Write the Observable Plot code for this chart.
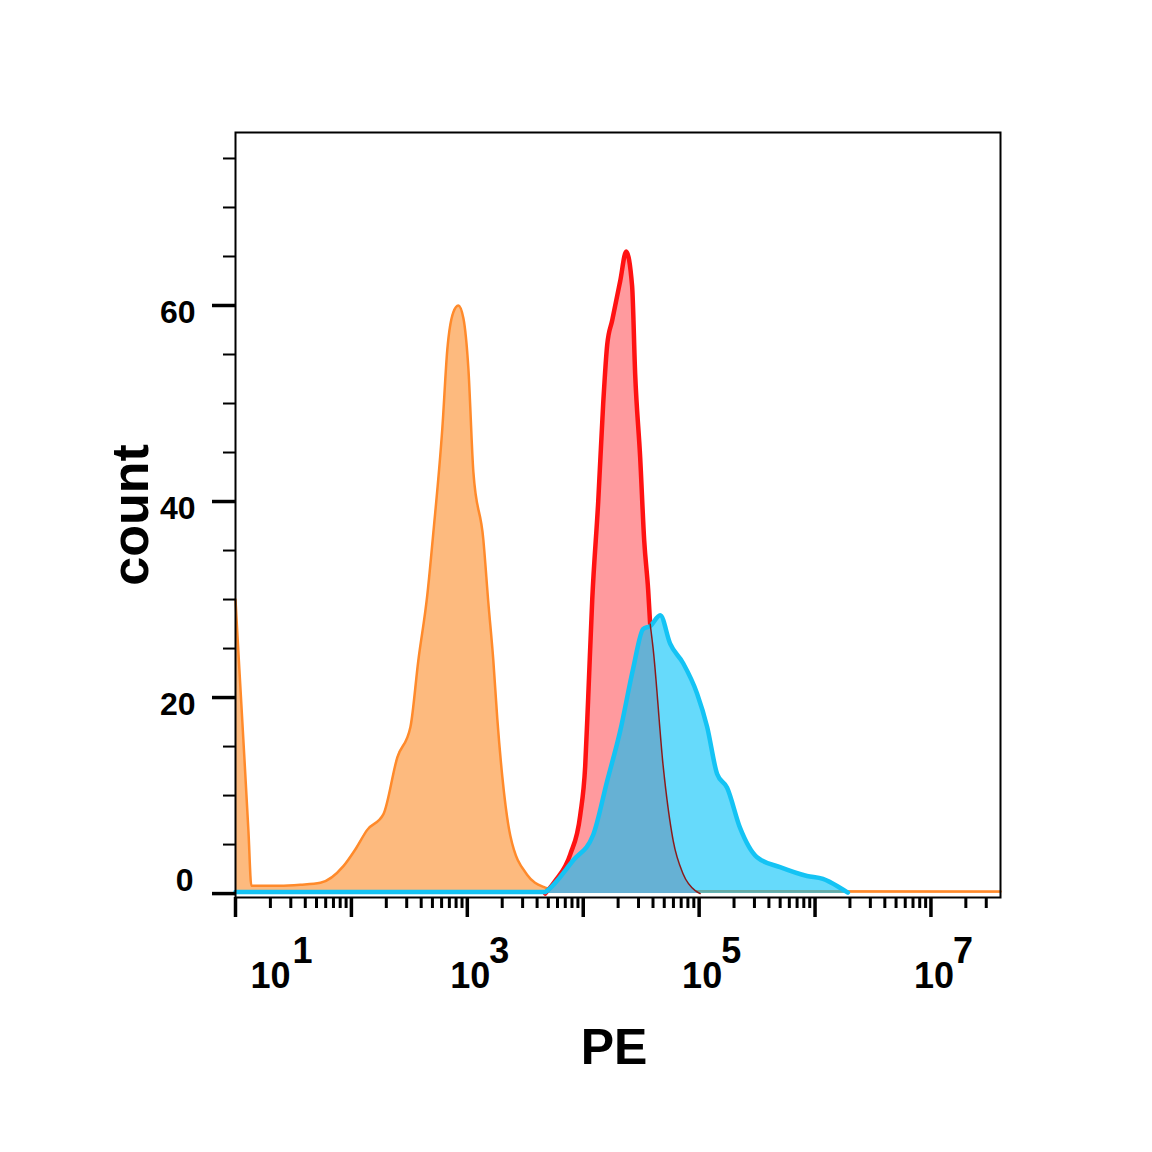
<!DOCTYPE html>
<html><head><meta charset="utf-8">
<script src="https://cdn.jsdelivr.net/npm/d3@7"></script>
<script src="https://cdn.jsdelivr.net/npm/@observablehq/plot@0.6"></script>
<style>body{margin:0;background:#fff}</style>
</head><body><div id="chart"></div>
<script>
// Orange histogram (negative control)
const orangePE = [10, 10.4, 11.04, 11.96, 12.94, 13.7, 24, 36.3, 54, 85.3, 108, 137, 189, 249, 323, 378, 452, 509, 609, 672, 757, 836, 925, 1021, 1128, 1375, 1518, 1676, 1815, 2005, 2350, 3290, 4700, 6340, 39800000];
const orangeCount = [30, 26.3, 20.9, 13.6, 6.3, 0.8, 0.8, 0.9, 1.1, 2.8, 4.5, 6.5, 8.1, 13.9, 17, 23.8, 30.5, 36.8, 47.5, 55.5, 59.3, 60, 58.7, 53.6, 43, 36.1, 29.7, 23.8, 17.8, 11.9, 5.9, 1.9, 0.6, 0.25, 0.2];
// Red histogram
const redPE = [4700, 5740, 7730, 9420, 10400, 11040, 11960, 13470, 14870, 16100, 17790, 20850, 23480, 26400, 28060, 30990, 33580, 36320, 37800, 40100, 48950, 59700, 72800, 92500, 102000];
const redCount = [0, 1.3, 4, 8, 13, 20, 30, 40, 50, 56, 58.5, 62.5, 65.5, 62, 53, 44.5, 36, 31, 27.5, 25, 13, 5.4, 2, 0.3, 0];
// Blue histogram
const bluePE = [10, 4700, 4895, 8200, 12200, 16100, 20850, 27000, 32900, 37800, 46150, 56200, 72800, 96100, 117300, 143000, 174300, 225500, 316000, 499000, 853000, 1170000, 1640000, 1920000];
const blueCount = [0.15, 0.15, 0.3, 3.4, 6, 11.5, 16.6, 23, 27, 27.3, 28.4, 25.5, 23.5, 20.4, 17, 12.2, 10.8, 6.7, 3.7, 2.7, 1.8, 1.5, 0.6, 0.1];

const yMajor = [0, 20, 40, 60];
const yMinor = [0, 5, 10, 15, 20, 25, 30, 35, 40, 45, 50, 55, 60, 65, 70, 75];
const xMajor = [10, 100, 1000, 10000, 100000, 1000000, 10000000];
const xLabelBase = ["10", "10", "10", "10"];
const xLabelExp = ["1", "3", "5", "7"];
const xLabelPos = [10, 1000, 100000, 10000000];

const xMinor = [];
for (let k = 1; k <= 7; k++) for (let m = 2; m <= 9; m++) {
  const v = m * 10 ** k;
  if (v <= 10 ** 7.6) xMinor.push(v);
}

const rows = (xs, ys) => xs.map((x, i) => ({x, y: ys[i]}));
const orange = rows(orangePE, orangeCount);
const red = rows(redPE, redCount);
const blue = rows(bluePE, blueCount);
const labels = xLabelPos.map((v, i) => ({v, base: xLabelBase[i], exp: xLabelExp[i]}));
const firstLabel = labels.slice(0, 1);
const otherLabels = labels.slice(1);

const font = "'Liberation Sans', Arial, Helvetica, sans-serif";
const curve = "monotone-x";

const chart = Plot.plot({
  width: 1152, height: 1152,
  marginLeft: 235, marginRight: 152, marginTop: 132, marginBottom: 255,
  style: {fontFamily: font, background: "#fff", color: "#000"},
  x: {type: "log", domain: [10, 10 ** 7.6]},
  y: {domain: [-0.4, 77.65]},
  marks: [
    Plot.areaY(orange, {x: "x", y: "y", curve, fill: "#FDBA7E"}),
    Plot.lineY(orange, {x: "x", y: "y", curve, stroke: "#FF8A2B", strokeWidth: 2.5}),
    Plot.areaY(red, {x: "x", y: "y", curve, fill: "#FF9A9E"}),
    Plot.lineY(red.filter(d => d.x <= 37800), {x: "x", y: "y", curve, stroke: "#FF1212", strokeWidth: 4.5}),
    Plot.areaY(blue, {x: "x", y: "y", curve, fill: "#00C1F8", fillOpacity: 0.6}),
    Plot.lineY(blue, {x: "x", y: "y", curve, stroke: "#14C3F4", strokeWidth: 4.5}),
    Plot.lineY(red.filter(d => d.x >= 37800), {x: "x", y: "y", curve, stroke: "#8B1A1A", strokeWidth: 1.5}),
    Plot.frame({stroke: "#000", strokeWidth: 2}),
    // y ticks
    Plot.axisY(yMinor, {tickSize: 12, strokeWidth: 2, fill: "none", label: null}),
    Plot.axisY(yMajor, {tickSize: 23, strokeWidth: 3.5, fill: "none", label: null}),
    Plot.axisY(yMajor.filter(d => d !== 0), {tickSize: 0, tickPadding: 40, dy: 7, fontSize: 32, fontWeight: "bold", label: null}),
    Plot.axisY([0], {tickSize: 0, tickPadding: 42, dy: -13, fontSize: 32, fontWeight: "bold", label: null}),
    // x ticks
    Plot.axisX(xMinor, {tickSize: 11, strokeWidth: 3, fill: "none", label: null}),
    Plot.axisX(xMajor, {tickSize: 20, strokeWidth: 3.5, fill: "none", label: null}),
    // x tick labels 10^n
    Plot.text(otherLabels, {x: "v", text: "base", frameAnchor: "bottom", lineAnchor: "bottom", dy: 90, dx: 3, fontSize: 36, fontWeight: "bold", textAnchor: "middle"}),
    Plot.text(otherLabels, {x: "v", text: "exp", frameAnchor: "bottom", lineAnchor: "bottom", dy: 65, dx: 22, fontSize: 36, fontWeight: "bold", textAnchor: "start"}),
    Plot.text(firstLabel, {x: "v", text: "base", frameAnchor: "bottom", lineAnchor: "bottom", dy: 90, dx: 35, fontSize: 36, fontWeight: "bold", textAnchor: "middle"}),
    Plot.text(firstLabel, {x: "v", text: "exp", frameAnchor: "bottom", lineAnchor: "bottom", dy: 65, dx: 57, fontSize: 36, fontWeight: "bold", textAnchor: "start"}),
    // axis titles
    Plot.text(["count"], {frameAnchor: "left", dx: -88, rotate: -90, lineAnchor: "bottom", textAnchor: "middle", fontSize: 52, fontWeight: "bold"}),
    Plot.text(["PE"], {frameAnchor: "bottom", dx: -4, dy: 166, lineAnchor: "bottom", textAnchor: "middle", fontSize: 50, fontWeight: "bold"})
  ]
});
document.getElementById("chart").appendChild(chart);
</script>
</body></html>
